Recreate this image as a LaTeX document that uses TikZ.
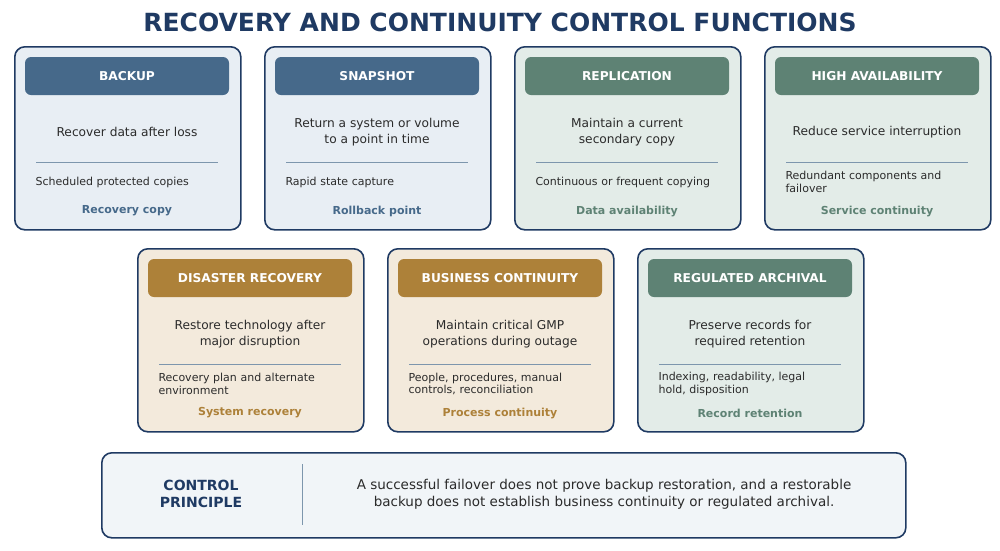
\documentclass[tikz,border=0pt]{standalone}
\usepackage{fontspec}
\setmainfont{DejaVu Sans}
\usetikzlibrary{positioning}
\definecolor{navy}{HTML}{1F3A63}
\definecolor{bluehd}{HTML}{46698A}
\definecolor{bluebg}{HTML}{E8EEF4}
\definecolor{greenhd}{HTML}{5E8274}
\definecolor{greenbg}{HTML}{E3ECE8}
\definecolor{goldhd}{HTML}{AD8139}
\definecolor{goldbg}{HTML}{F3EADC}
\definecolor{txt}{HTML}{2B2B2B}
\tikzset{
  card/.style={draw=navy, line width=1.6pt, rounded corners=10pt, minimum width=226pt, minimum height=183pt},
  head/.style={rounded corners=6pt, minimum width=204pt, minimum height=38pt, text=white, font=\bfseries\fontsize{12.2}{14}\selectfont},
  main/.style={text=txt, align=center, font=\fontsize{12.2}{15.5}\selectfont},
  small/.style={text=txt, align=left, anchor=west, text width=205pt, font=\fontsize{11}{12.5}\selectfont},
  tag/.style={font=\bfseries\fontsize{11}{13}\selectfont},
}
% card: x, y(top), fill, header colour, title, main text, small text, tag
\newcommand{\ctlcard}[8]{%
  \node[card, fill=#3, anchor=north west] at (#1,#2) {};
  \node[head, fill=#4] at (#1+113,#2+30) {#5};
  \node[main] at (#1+113,#2+86) {#6};
  \draw[bluehd!70, line width=0.8pt] (#1+22,#2+116) -- (#1+204,#2+116);
  \node[small] at (#1+18,#2+136) {#7};
  \node[tag, text=#4] at (#1+113,#2+165) {#8};
}
\begin{document}
\begin{tikzpicture}[x=1pt,y=-1pt]
\useasboundingbox (0,0) rectangle (1000,550);
\node[text=navy, font=\bfseries\fontsize{25}{28}\selectfont] (title) at (500,22) {RECOVERY AND CONTINUITY CONTROL FUNCTIONS};

\ctlcard{14}{46}{bluebg}{bluehd}{BACKUP}{Recover data after loss}{Scheduled protected copies}{Recovery copy}
\ctlcard{264}{46}{bluebg}{bluehd}{SNAPSHOT}{Return a system or volume\\to a point in time}{Rapid state capture}{Rollback point}
\ctlcard{514}{46}{greenbg}{greenhd}{REPLICATION}{Maintain a current\\secondary copy}{Continuous or frequent copying}{Data availability}
\ctlcard{764}{46}{greenbg}{greenhd}{HIGH AVAILABILITY}{Reduce service interruption}{Redundant components and\\failover}{Service continuity}

\ctlcard{137}{248}{goldbg}{goldhd}{DISASTER RECOVERY}{Restore technology after\\major disruption}{Recovery plan and alternate\\environment}{System recovery}
\ctlcard{387}{248}{goldbg}{goldhd}{BUSINESS CONTINUITY}{Maintain critical GMP\\operations during outage}{People, procedures, manual\\controls, reconciliation}{Process continuity}
\ctlcard{637}{248}{greenbg}{greenhd}{REGULATED ARCHIVAL}{Preserve records for\\required retention}{Indexing, readability, legal\\hold, disposition}{Record retention}

\node[card, fill=bluebg!60, minimum width=804pt, minimum height=85pt, anchor=north west] (principle) at (101,452) {};
\node[text=navy, align=center, font=\bfseries\fontsize{14}{17}\selectfont] (ptitle) at (201,494) {CONTROL\\PRINCIPLE};
\draw[bluehd!70, line width=1pt] (302,464) -- (302,525);
\node[main, font=\fontsize{13.5}{17}\selectfont] (ptext) at (604,494) {A successful failover does not prove backup restoration, and a restorable\\backup does not establish business continuity or regulated archival.};
\end{tikzpicture}
\end{document}
